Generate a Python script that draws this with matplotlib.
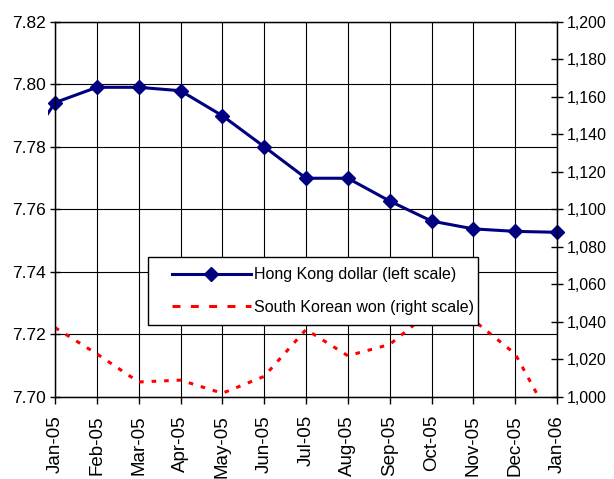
import numpy as np
import matplotlib
matplotlib.use('Agg')
import matplotlib.pyplot as plt
from matplotlib.patches import Rectangle
from matplotlib.ticker import FuncFormatter
from matplotlib.lines import Line2D
from matplotlib.legend_handler import HandlerLine2D
import matplotlib.transforms as mtransforms

plt.rcParams['font.family'] = ['Liberation Sans', 'DejaVu Sans']

months = ['Jan-05', 'Feb-05', 'Mar-05', 'Apr-05', 'May-05', 'Jun-05', 'Jul-05',
          'Aug-05', 'Sep-05', 'Oct-05', 'Nov-05', 'Dec-05', 'Jan-06']
# HKD per USD, plus the Dec-04 value the series comes in from
hkd_dec04 = 7.774
hkd = [7.7942, 7.7991, 7.7991, 7.7980, 7.7900, 7.7801, 7.7700,
       7.7700, 7.7627, 7.7563, 7.7538, 7.7530, 7.7527]
# KRW per USD
krw = [1037, 1023, 1008, 1009, 1002, 1011, 1036,
       1022, 1028, 1046, 1041, 1023, 982]

fig = plt.figure(figsize=(6.14, 4.79), dpi=100)
ax = fig.add_axes([0.0896, 0.1712, 0.8176, 0.7829])
ax2 = ax.twinx()

x = np.arange(len(months))
navy = '#000080'
red_dash = (0, (1.5, 2.6))

# lead-in segment from Dec-04, clipped just outside the left axis like the original
xl = np.concatenate([[-1], x])
yl = np.concatenate([[hkd_dec04], hkd])
ln, = ax.plot(xl, yl, color=navy, lw=2.2, zorder=3)
clip = Rectangle((-0.17, 0), 12.5, 1,
                 transform=mtransforms.blended_transform_factory(ax.transData, ax.transAxes))
ln.set_clip_path(clip)
ax.plot(x, hkd, ls='none', marker='D', ms=7.5, color=navy, clip_on=False, zorder=4)

ax2.plot(x, krw, color='red', lw=2.2, ls=red_dash)

ax.set_xlim(0, 12)
ax.set_ylim(7.70, 7.82)
ax.set_yticks(np.arange(7.70, 7.8201, 0.02))
ax.yaxis.set_major_formatter(FuncFormatter(lambda v, p: f'{v:.2f}'))
ax2.set_ylim(1000, 1200)
ax2.set_yticks(np.arange(1000, 1201, 20))
ax2.yaxis.set_major_formatter(FuncFormatter(lambda v, p: f'{v:,.0f}'))

ax.set_xticks(x)
ax.set_xticklabels(months, rotation=90, fontsize=13.5)
ax.tick_params(axis='x', direction='out', length=5, width=1, color='black', pad=8)
ax.tick_params(axis='y', labelsize=12.5, direction='inout', length=7, width=1, color='black', pad=3)
ax2.tick_params(axis='y', labelsize=11.5, direction='inout', length=8, width=1, color='black', pad=3)

ax.grid(True, color='black', lw=0.8)
ax.set_axisbelow(True)
for a in (ax, ax2):
    for s in a.spines.values():
        s.set_color('black')
        s.set_linewidth(0.9)

# legend proxies
h1 = Line2D([], [], color=navy, lw=2.2, marker='D', ms=7.5)
h2 = Line2D([], [], color='red', lw=2.2, ls=(0, (2.6, 3.4)))
hm = {h1: HandlerLine2D(xpad=0.9), h2: HandlerLine2D(xpad=0.9)}
leg = ax2.legend([h1, h2], ['Hong Kong dollar (left scale)', 'South Korean won (right scale)'],
                 handler_map=hm,
                 loc='upper left', bbox_to_anchor=(0.185, 0.173, 0.658, 0.2), mode='expand',
                 fontsize=11.5, frameon=True, fancybox=False, framealpha=1, edgecolor='black',
                 handlelength=5.8, handletextpad=0.2, borderpad=0.63, labelspacing=1.12,
                 borderaxespad=0)
leg.get_frame().set_linewidth(1)
leg.set_zorder(10)

fig.savefig('out.png', dpi=100)
